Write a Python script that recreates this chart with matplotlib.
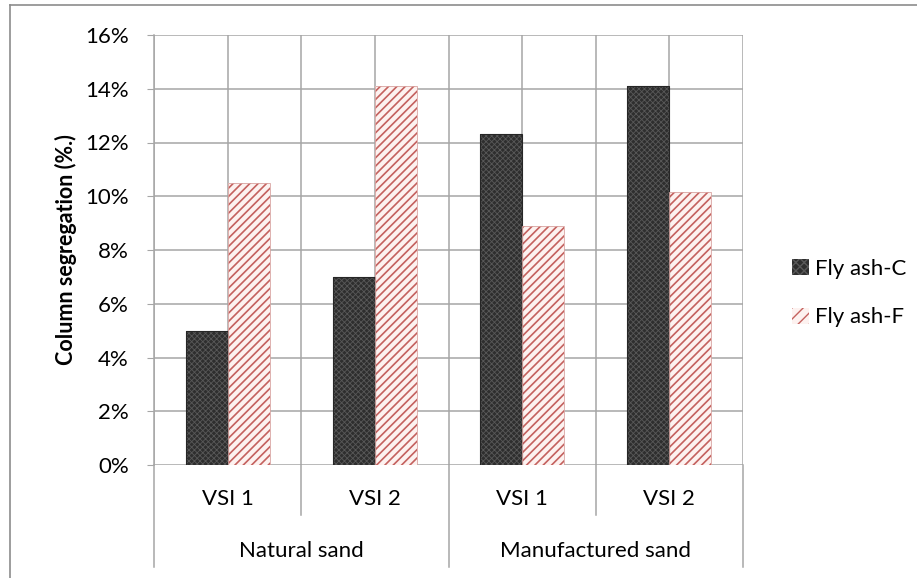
import matplotlib
matplotlib.use("Agg")
import matplotlib.pyplot as plt
from matplotlib.patches import Patch
from matplotlib.lines import Line2D
import matplotlib.transforms as mtransforms
import numpy as np

# --- data ---
groups = ["Natural sand", "Manufactured sand"]
sub_labels = ["VSI 1", "VSI 2", "VSI 1", "VSI 2"]
series_names = ["Fly ash-C", "Fly ash-F"]
fly_ash_c = [5.0, 7.0, 12.3, 14.1]
fly_ash_f = [10.5, 14.1, 8.9, 10.15]
y_ticks = [0, 2, 4, 6, 8, 10, 12, 14, 16]

plt.rcParams['font.family'] = ['Lato', 'DejaVu Sans']

W, H = 917, 578
fig = plt.figure(figsize=(W / 100, H / 100), dpi=100)
ax = fig.add_axes([154 / W, 1 - 465 / H, (743 - 154) / W, (465 - 35) / H])

grid_c = '#a6a6a6'
dark_c, dark_tex = '#2e2e2e', '#585858'
red_bg, red_c = '#fdf2f0', '#c4615e'
fs = 16
x = np.arange(len(sub_labels))
bw = 0.286

# gridlines behind bars
for yv in y_ticks:
    ax.axhline(yv, color=grid_c, lw=1.1, zorder=0)
for xv in np.arange(-0.5, 3.51, 0.5):
    ax.axvline(xv, color=grid_c, lw=1.1, zorder=0)

# dark series: base fill + fine texture
with plt.rc_context({'hatch.linewidth': 0.6}):
    ax.bar(x - bw / 2, fly_ash_c, bw, color=dark_c, lw=0, zorder=2)
    ax.bar(x - bw / 2, fly_ash_c, bw, facecolor='none', edgecolor=dark_tex,
           hatch='xxxxxx', lw=0, zorder=3)
ax.bar(x - bw / 2, fly_ash_c, bw, facecolor='none', edgecolor='#262626',
       lw=0.8, zorder=4)

# striped series
with plt.rc_context({'hatch.linewidth': 1.2}):
    ax.bar(x + bw / 2, fly_ash_f, bw, color=red_bg, lw=0, zorder=2)
    ax.bar(x + bw / 2, fly_ash_f, bw, facecolor='none', edgecolor=red_c,
           hatch='////', lw=0, zorder=3)
ax.bar(x + bw / 2, fly_ash_f, bw, facecolor='none', edgecolor='#d9a5a2',
       lw=0.6, zorder=4)

ax.set_xlim(-0.5, 3.5)
ax.set_ylim(0, 16)
ax.set_yticks(y_ticks)
ax.set_yticklabels([f"{v}%" for v in y_ticks], fontsize=fs)
ax.tick_params(axis='y', length=5, color=grid_c, pad=13)
ax.set_xticks([])
for s in ['top', 'right', 'bottom']:
    ax.spines[s].set_visible(False)
ax.spines['left'].set_color(grid_c)
ax.spines['left'].set_linewidth(1.1)

ax.set_ylabel("Column segregation (%.)", fontsize=15.5, fontweight='bold', labelpad=6)

# multi-level category axis
trans = mtransforms.blended_transform_factory(ax.transData, ax.transAxes)
ph = 465 - 35
for i, lab in enumerate(sub_labels):
    ax.text(x[i], -34 / ph, lab, transform=trans, ha='center', va='center', fontsize=fs)
for g, lab in enumerate(groups):
    ax.text(2 * g + 0.5, -86 / ph, lab, transform=trans, ha='center', va='center', fontsize=fs)
for xv in [-0.5, 0.5, 1.5, 2.5, 3.5]:
    depth = 102 if xv in (-0.5, 1.5, 3.5) else 50
    ax.add_line(Line2D([xv, xv], [0, -depth / ph], transform=trans, color=grid_c,
                       lw=1.1, clip_on=False))

# legend
with plt.rc_context({'hatch.linewidth': 1.0}):
    handles = [Patch(facecolor=dark_c, edgecolor=dark_tex, hatch='xxxx', lw=0),
               Patch(facecolor=red_bg, edgecolor=red_c, hatch='///', lw=0)]
fig.legend(handles, series_names, loc='center left', bbox_to_anchor=(772 / W, 1 - 293 / H),
           frameon=False, fontsize=fs, handlelength=0.75, handleheight=0.75,
           handletextpad=0.3, labelspacing=1.3)

# outer chart border (left and top only visible)
fig.add_artist(Line2D([10 / W, 10 / W], [0, 1 - 5 / H], color='#8c8c8c', lw=1.2))
fig.add_artist(Line2D([10 / W, 1], [1 - 5 / H, 1 - 5 / H], color='#8c8c8c', lw=1.2))

fig.savefig("out.png", dpi=100)
